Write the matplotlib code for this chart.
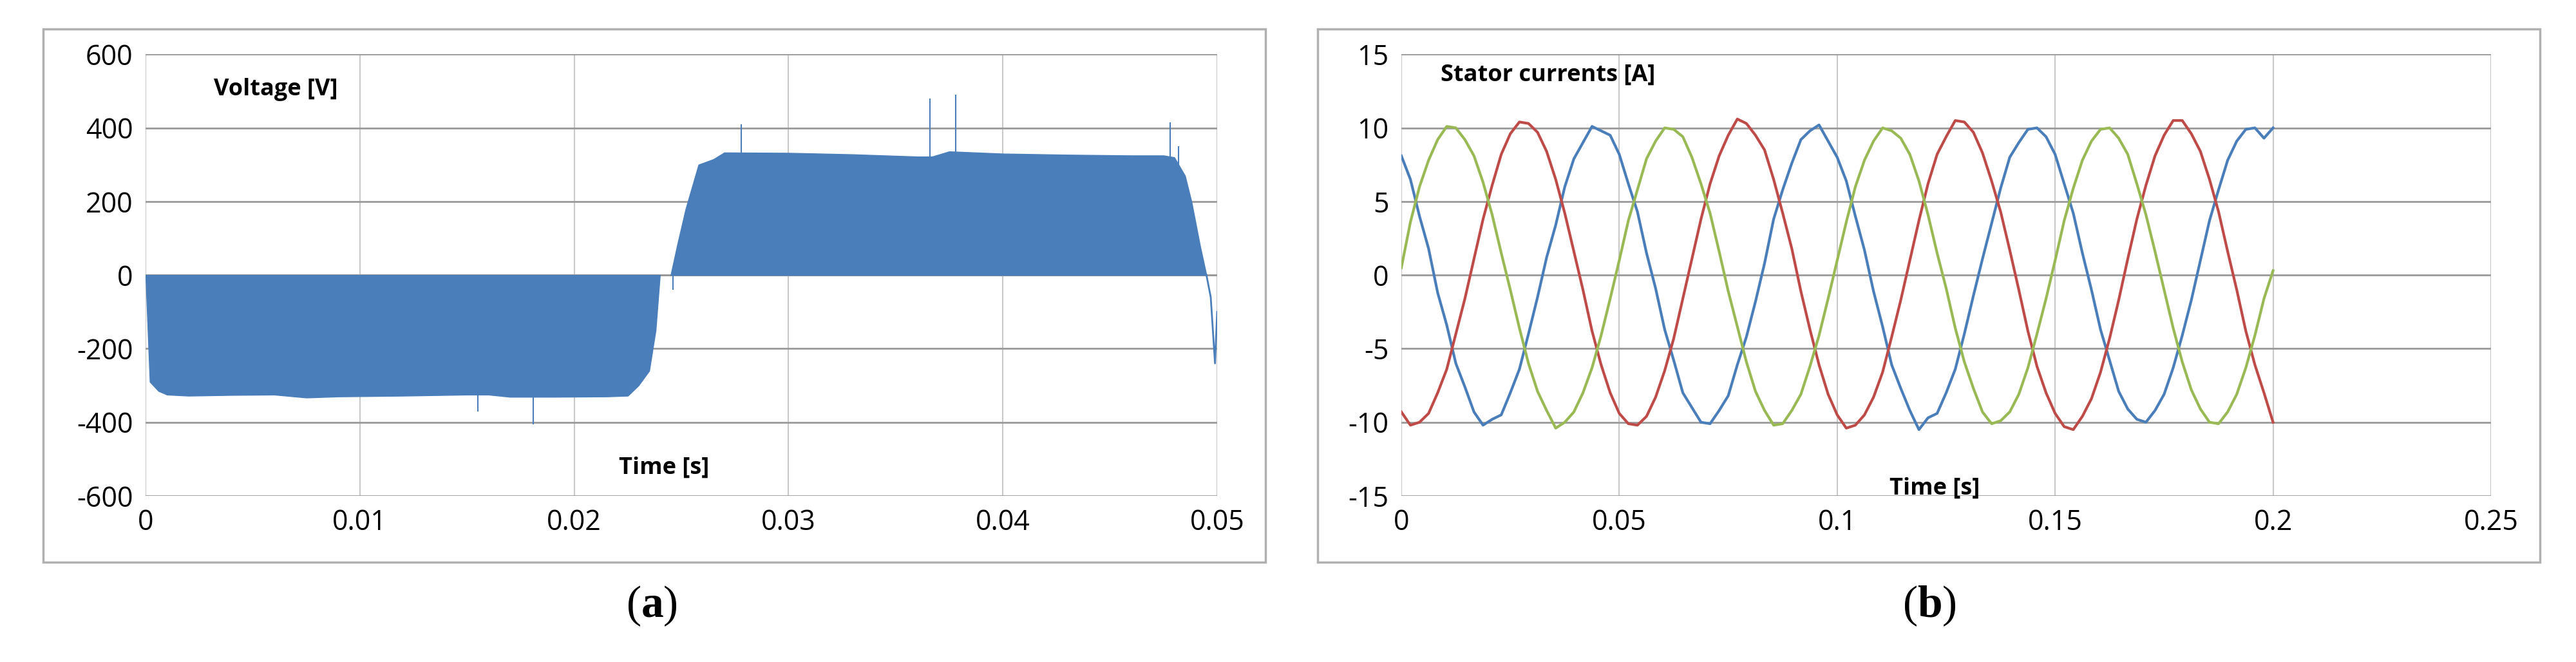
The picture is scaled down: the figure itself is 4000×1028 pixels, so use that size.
import numpy as np
import matplotlib
matplotlib.use("Agg")
import matplotlib.pyplot as plt
from matplotlib.patches import Rectangle

plt.rcParams["axes.unicode_minus"] = False
plt.rcParams["mathtext.fontset"] = "custom"
plt.rcParams["mathtext.rm"] = "Liberation Serif"
plt.rcParams["mathtext.bf"] = "Liberation Serif:bold"

# ---- Data (a) voltage envelope ----
neg_t = [0.0, 0.0002, 0.0006, 0.001, 0.002, 0.004, 0.006, 0.0075, 0.009, 0.012, 0.015, 0.016, 0.017, 0.019, 0.0215, 0.0225, 0.023, 0.0235, 0.0238, 0.024]
neg_v = [0, -290, -315, -325, -328, -326, -325, -333, -330, -328, -325, -325, -331, -331, -330, -328, -300, -260, -150, 0]
pos_t = [0.0245, 0.0248, 0.0252, 0.0258, 0.0265, 0.027, 0.03, 0.033, 0.036, 0.0367, 0.0375, 0.04, 0.043, 0.046, 0.0475, 0.048, 0.0485, 0.0488, 0.0492, 0.0495]
pos_v = [0, 80, 180, 300, 315, 333, 332, 328, 322, 322, 336, 330, 327, 325, 325, 320, 270, 200, 80, 0]
end_t = [0.0495, 0.0497, 0.0499, 0.05]
end_v = [0, -60, -240, -100]
spike_t = [0.0278, 0.0366, 0.0378, 0.0478, 0.0155, 0.0181, 0.0246, 0.0482]
spike_v = [410, 480, 490, 415, -370, -405, -40, 350]

# ---- Data (b) stator currents, sampled every 1/24 of a period ----
ia = [8.1, 6.5, 4.0, 1.8, -1.2, -3.4, -6.0, -7.6, -9.3, -10.2, -9.8, -9.5, -8.0, -6.4, -4.0, -1.5, 1.2, 3.4, 6.0, 7.9, 9.0, 10.1, 9.8, 9.5,
      8.2, 6.2, 4.3, 1.5, -0.9, -3.7, -5.8, -8.0, -9.0, -10.0, -10.1, -9.2, -8.2, -6.1, -4.2, -1.8, 0.8, 3.8, 5.8, 7.6, 9.2, 9.8, 10.2, 9.1,
      8.0, 6.4, 4.0, 1.7, -1.1, -3.5, -6.1, -7.7, -9.2, -10.5, -9.7, -9.4, -8.0, -6.4, -4.0, -1.4, 1.1, 3.5, 5.9, 8.0, 9.0, 9.9, 10.0, 9.4,
      8.2, 6.2, 4.2, 1.5, -1.0, -3.7, -5.8, -7.9, -9.1, -9.8, -10.0, -9.2, -8.1, -6.3, -4.1, -1.7, 1.0, 3.7, 5.8, 7.8, 9.1, 9.9, 10.0, 9.3, 10.0]
ib = [-9.3, -10.2, -10.0, -9.4, -8.0, -6.4, -4.0, -1.6, 1.1, 3.8, 6.1, 8.2, 9.6, 10.4, 10.3, 9.7, 8.4, 6.5, 4.2, 1.6, -1.0, -3.8, -6.1, -8.0,
      -9.4, -10.1, -10.2, -9.6, -8.3, -6.5, -4.3, -1.6, 1.1, 3.8, 6.2, 8.1, 9.5, 10.6, 10.3, 9.5, 8.5, 6.5, 4.2, 1.8, -1.1, -3.7, -6.1, -8.1,
      -9.5, -10.4, -10.2, -9.5, -8.3, -6.6, -4.2, -1.7, 1.0, 3.7, 6.2, 8.2, 9.4, 10.5, 10.4, 9.7, 8.3, 6.4, 4.3, 1.7, -1.0, -3.8, -6.2, -8.0,
      -9.4, -10.3, -10.5, -9.6, -8.4, -6.6, -4.3, -1.7, 1.1, 3.8, 6.1, 8.1, 9.5, 10.5, 10.5, 9.6, 8.4, 6.5, 4.3, 1.6, -1.0, -3.8, -6.1, -8.0, -10.0]
ic = [0.5, 3.6, 6.0, 7.8, 9.2, 10.1, 10.0, 9.2, 8.1, 6.3, 4.1, 1.5, -1.0, -3.6, -6.0, -7.9, -9.2, -10.4, -10.0, -9.3, -8.0, -6.3, -4.1, -1.6,
      1.0, 3.7, 5.8, 7.9, 9.1, 10.0, 9.9, 9.4, 8.0, 6.2, 4.2, 1.6, -1.1, -3.5, -5.9, -7.9, -9.2, -10.2, -10.1, -9.2, -8.1, -6.2, -4.1, -1.6,
      1.0, 3.6, 6.0, 7.8, 9.1, 10.0, 9.8, 9.3, 8.2, 6.4, 4.1, 1.5, -0.9, -3.6, -5.9, -7.7, -9.3, -10.1, -9.9, -9.3, -8.1, -6.3, -4.0, -1.6,
      1.0, 3.7, 5.9, 7.8, 9.1, 9.9, 10.0, 9.3, 8.2, 6.2, 4.1, 1.6, -1.0, -3.6, -5.9, -7.8, -9.1, -10.0, -10.1, -9.3, -8.1, -6.3, -4.1, -1.6, 0.3]
period = 0.05

xticks_a = [0, 0.01, 0.02, 0.03, 0.04, 0.05]
xlabels_a = ["0", "0.01", "0.02", "0.03", "0.04", "0.05"]
yticks_a = [-600, -400, -200, 0, 200, 400, 600]
xticks_b = [0, 0.05, 0.1, 0.15, 0.2, 0.25]
xlabels_b = ["0", "0.05", "0.1", "0.15", "0.2", "0.25"]
yticks_b = [-15, -10, -5, 0, 5, 10, 15]

BLUE = "#4a7ebb"
RED = "#be4b48"
GREEN = "#98b954"
FONT = ["Open Sans", "DejaVu Sans"]

fig = plt.figure(figsize=(40, 10.28), dpi=100)
for x0 in (0.01675, 0.5115):
    fig.patches.append(Rectangle((x0, 0.151), 0.4745, 0.805, transform=fig.transFigure,
                                 fill=False, edgecolor="#b0b0b0", linewidth=2.5))

def style(ax, xt, xl, yt):
    ax.set_xticks(xt)
    ax.set_xticklabels(xl)
    ax.set_yticks(yt)
    ax.set_xlim(xt[0], xt[-1])
    ax.set_ylim(yt[0], yt[-1])
    for s in ax.spines.values():
        s.set_visible(False)
    ax.grid(True, axis="y", color="#9a9a9a", linewidth=2)
    ax.grid(True, axis="x", color="#c8c8c8", linewidth=1.5)
    ax.tick_params(length=0, labelsize=31, pad=14)
    for lab in ax.get_xticklabels() + ax.get_yticklabels():
        lab.set_family(FONT)
    ax.set_axisbelow(True)

ax1 = fig.add_axes([0.0565, 0.251, 0.416, 0.667])
style(ax1, xticks_a, xlabels_a, yticks_a)
ax1.fill_between(neg_t, neg_v, 0, color=BLUE, linewidth=1)
ax1.fill_between(pos_t, pos_v, 0, color=BLUE, linewidth=1)
ax1.plot(end_t, end_v, color=BLUE, linewidth=2)
ax1.vlines(spike_t, 0, spike_v, color=BLUE, linewidth=1.5)
ax1.axhline(0, color="#7f7f7f", linewidth=2, zorder=0.5)
ax1.text(0.0032, 505, "Voltage [V]", fontsize=26, fontweight="bold", family=FONT, va="center")
ax1.text(0.0221, -525, "Time [s]", fontsize=26, fontweight="bold", family=FONT, va="center")

ax2 = fig.add_axes([0.544, 0.251, 0.423, 0.667])
style(ax2, xticks_b, xlabels_b, yticks_b)
tb = np.arange(len(ia)) * period / 24
ax2.plot(tb, ia, color=BLUE, linewidth=3)
ax2.plot(tb, ib, color=RED, linewidth=3)
ax2.plot(tb, ic, color=GREEN, linewidth=3)
ax2.text(0.009, 13.6, "Stator currents [A]", fontsize=26, fontweight="bold", family=FONT, va="center")
ax2.text(0.112, -14.5, "Time [s]", fontsize=26, fontweight="bold", family=FONT, va="center")

for x, lab in ((0.253, "a"), (0.749, "b")):
    fig.text(x, 0.085, "(" + r"$\mathbf{" + lab + "}$" + ")", fontsize=50, family="Liberation Serif",
             ha="center", va="center")

fig.savefig("out.png", dpi=100)
